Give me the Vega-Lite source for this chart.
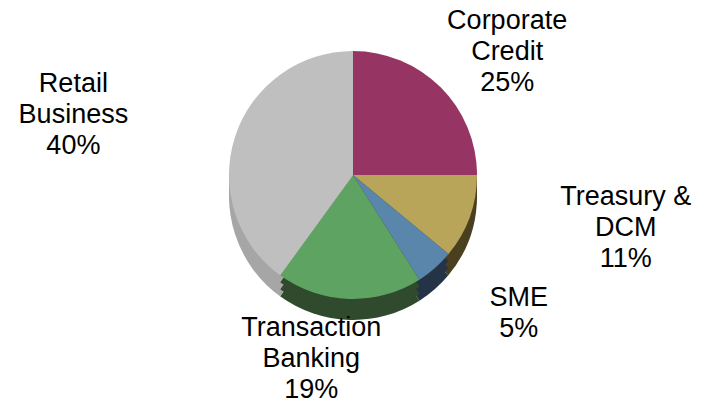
{
  "$schema": "https://vega.github.io/schema/vega-lite/v6.json",
  "autosize": {"type": "none"},
  "width": 706,
  "height": 350,
  "padding": {"left": 0, "top": 0, "right": 10, "bottom": 55},
  "background": "white",
  "view": {"stroke": null},
  "data": {
    "values": [
      {"idx": 1, "segment": "Corporate Credit", "value": 25, "label": "Corporate\nCredit\n25%"},
      {"idx": 2, "segment": "Treasury & DCM", "value": 11, "label": "Treasury &\nDCM\n11%"},
      {"idx": 3, "segment": "SME", "value": 5, "label": "SME\n5%"},
      {"idx": 4, "segment": "Transaction Banking", "value": 19, "label": "Transaction\nBanking\n19%"},
      {"idx": 5, "segment": "Retail Business", "value": 40, "label": "Retail\nBusiness\n40%"}
    ]
  },
  "layer": [
    {
      "layer": [
        {"mark": {"type": "arc", "outerRadius": 124, "yOffset": 21},
         "encoding": {
           "theta": {"field": "value", "type": "quantitative", "stack": true},
           "order": {"field": "idx", "type": "quantitative"},
           "color": {"field": "segment", "type": "nominal", "legend": null,
             "scale": {"domain": ["Corporate Credit", "Treasury & DCM", "SME", "Transaction Banking", "Retail Business"],
                       "range": ["#5a1f3c", "#4a3f1f", "#243446", "#2f4a2d", "#a6a6a6"]}}}},
        {"mark": {"type": "arc", "outerRadius": 124, "yOffset": 14},
         "encoding": {
           "theta": {"field": "value", "type": "quantitative", "stack": true},
           "order": {"field": "idx", "type": "quantitative"},
           "color": {"field": "segment", "type": "nominal", "legend": null}}},
        {"mark": {"type": "arc", "outerRadius": 124, "yOffset": 7},
         "encoding": {
           "theta": {"field": "value", "type": "quantitative", "stack": true},
           "order": {"field": "idx", "type": "quantitative"},
           "color": {"field": "segment", "type": "nominal", "legend": null}}}
      ]
    },
    {
      "layer": [
        {"mark": {"type": "arc", "outerRadius": 124},
         "encoding": {
           "theta": {"field": "value", "type": "quantitative", "stack": true},
           "order": {"field": "idx", "type": "quantitative"},
           "color": {"field": "segment", "type": "nominal", "legend": null,
             "scale": {"domain": ["Corporate Credit", "Treasury & DCM", "SME", "Transaction Banking", "Retail Business"],
                       "range": ["#963463", "#b9a55a", "#5b86ac", "#5fa363", "#bfbfbf"]}}}},
        {"mark": {"type": "text", "radius": 218, "font": "Liberation Sans", "fontSize": 27, "lineHeight": 31, "lineBreak": "\n", "align": "center", "baseline": "middle", "color": "#000000"},
         "encoding": {
           "theta": {"field": "value", "type": "quantitative", "stack": true},
           "order": {"field": "idx", "type": "quantitative"},
           "text": {"condition": {"test": "datum.idx === 1", "field": "label"}, "value": ""}}},
        {"mark": {"type": "text", "radius": 290, "dy": -76, "font": "Liberation Sans", "fontSize": 27, "lineHeight": 31, "lineBreak": "\n", "align": "center", "baseline": "middle", "color": "#000000"},
         "encoding": {
           "theta": {"field": "value", "type": "quantitative", "stack": true},
           "order": {"field": "idx", "type": "quantitative"},
           "text": {"condition": {"test": "datum.idx === 2", "field": "label"}, "value": ""}}},
        {"mark": {"type": "text", "radius": 190, "dx": 40, "dy": -20, "font": "Liberation Sans", "fontSize": 27, "lineHeight": 31, "lineBreak": "\n", "align": "center", "baseline": "middle", "color": "#000000"},
         "encoding": {
           "theta": {"field": "value", "type": "quantitative", "stack": true},
           "order": {"field": "idx", "type": "quantitative"},
           "text": {"condition": {"test": "datum.idx === 3", "field": "label"}, "value": ""}}},
        {"mark": {"type": "text", "radius": 153, "dx": -37, "font": "Liberation Sans", "fontSize": 27, "lineHeight": 31, "lineBreak": "\n", "align": "center", "baseline": "middle", "color": "#000000"},
         "encoding": {
           "theta": {"field": "value", "type": "quantitative", "stack": true},
           "order": {"field": "idx", "type": "quantitative"},
           "text": {"condition": {"test": "datum.idx === 4", "field": "label"}, "value": ""}}},
        {"mark": {"type": "text", "radius": 294, "font": "Liberation Sans", "fontSize": 27, "lineHeight": 31, "lineBreak": "\n", "align": "center", "baseline": "middle", "color": "#000000"},
         "encoding": {
           "theta": {"field": "value", "type": "quantitative", "stack": true},
           "order": {"field": "idx", "type": "quantitative"},
           "text": {"condition": {"test": "datum.idx === 5", "field": "label"}, "value": ""}}}
      ]
    }
  ],
  "resolve": {"scale": {"color": "independent"}}
}
